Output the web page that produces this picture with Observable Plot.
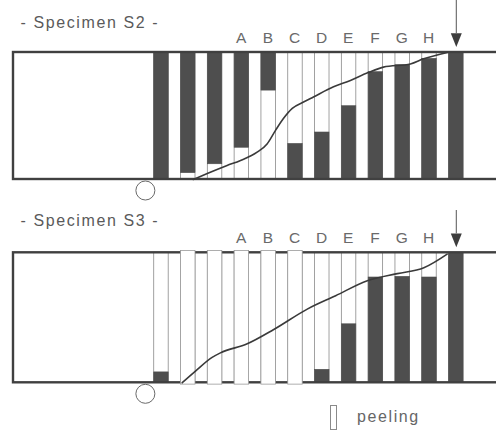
<!DOCTYPE html>
<html>
<head>
<meta charset="utf-8">
<script src="https://cdn.jsdelivr.net/npm/d3@7"></script>
<script src="https://cdn.jsdelivr.net/npm/@observablehq/plot@0.6"></script>
<style>
  html, body { margin: 0; padding: 0; background: #fff; }
  #wrap { position: relative; width: 496px; height: 434px; overflow: hidden; font-family: "Liberation Sans", Arial, sans-serif; }
  #p1, #p2 { position: absolute; left: 0; }
  #p1 { top: 0; }
  #p2 { top: 210px; }
  #p1 svg, #p2 svg { display: block; }
  #legend { position: absolute; left: 0; top: 405px; width: 496px; height: 29px; }
  #swatch { position: absolute; left: 330px; top: 0px; width: 5px; height: 23px; border: 1px solid #8a8a8a; background: #fff; }
  #legtext { position: absolute; left: 357px; top: 3px; font-size: 16px; letter-spacing: 1.6px; color: #666; line-height: 18px; }
</style>
</head>
<body>
<div id="wrap">
  <div id="p1"></div>
  <div id="p2"></div>
  <div id="legend"><div id="swatch"></div><div id="legtext">peeling</div></div>
</div>
<script>
// ---- data ----
const stripIndex = [0, 1, 2, 3, 4, 5, 6, 7, 8, 9, 10, 11];
const stripLabels = ["A", "B", "C", "D", "E", "F", "G", "H"];
const labelStrip = [3, 4, 5, 6, 7, 8, 9, 10];
const arrowStrip = 11;
const originPos = -0.6;
const legendLabel = "peeling";

// dark (non-peeled) part of each strip, as fraction of height (0 = bottom, 1 = top)
const s2DarkFrom = [0, 0.05, 0.12, 0.25, 0.70, 0, 0, 0, 0, 0, 0, 0];
const s2DarkTo   = [1, 1, 1, 1, 1, 0.28, 0.37, 0.577, 0.845, 0.90, 0.95, 1];
const s3DarkFrom = [0, null, null, null, null, null, 0, 0, 0, 0, 0, 0];
const s3DarkTo   = [0.08, null, null, null, null, null, 0.10, 0.45, 0.81, 0.815, 0.81, 1];

// crack / peel front curve
const s2CurveX = [1.19, 1.71, 2.45, 2.95, 3.57, 3.94, 4.25, 4.55, 4.88, 5.30, 5.67, 6.42, 7.05, 7.69, 8.28, 9.29, 9.78, 10.67];
const s2CurveY = [0, 0.047, 0.11, 0.15, 0.215, 0.28, 0.385, 0.48, 0.56, 0.61, 0.65, 0.73, 0.78, 0.84, 0.885, 0.91, 0.95, 1.0];
const s3CurveX = [0.77, 1.27, 1.89, 2.2, 3.2, 4.19, 5.44, 6.5, 7.68, 8.8, 9.79, 10.66];
const s3CurveY = [0, 0.09, 0.195, 0.23, 0.30, 0.41, 0.567, 0.67, 0.785, 0.84, 0.885, 0.99];

const titles = ["- Specimen S2 -", "- Specimen S3 -"];

// ---- drawing ----
const downTriangle = {
  draw(ctx, size) {
    const r = Math.sqrt(size / Math.PI);
    ctx.moveTo(-r, -1.25 * r);
    ctx.lineTo(r, -1.25 * r);
    ctx.lineTo(0, 1.25 * r);
    ctx.closePath();
  }
};

function panel(cfg) {
  const strips = stripIndex.map((i, k) => ({i, from: cfg.darkFrom[k], to: cfg.darkTo[k]}));
  const curve = cfg.cx.map((x, k) => ({x, y: cfg.cy[k]}));
  const labels = stripLabels.map((t, k) => ({t, i: labelStrip[k]}));
  const H = cfg.frameBottom - cfg.frameTop;
  const above = px => 1 + px / H;
  const hw = 0.27;
  return Plot.plot({
    width: 496,
    height: cfg.height,
    margin: 0,
    x: {domain: [-5.52, 12.5], range: [13, 496], axis: null},
    y: {domain: [0, 1], range: [cfg.frameBottom, cfg.frameTop], axis: null},
    style: {fontFamily: "'Liberation Sans', Arial, sans-serif", background: "transparent", letterSpacing: "1.6px"},
    marks: [
      Plot.rect(strips, {x1: d => d.i - hw, x2: d => d.i + hw, y1: 0, y2: 1, fill: "white", stroke: "#8a8a8a", strokeWidth: 0.8}),
      Plot.rect(strips.filter(d => d.from != null), {x1: d => d.i - hw, x2: d => d.i + hw, y1: "from", y2: "to", fill: "#4e4e4e", stroke: "#4e4e4e", strokeWidth: 0.6}),
      Plot.rect([0], {x1: -5.52, x2: 14, y1: 0, y2: 1, fill: "none", stroke: "#404040", strokeWidth: 2.4}),
      Plot.rect(strips.filter(d => d.from == null), {x1: d => d.i - hw, x2: d => d.i + hw, y1: -0.014, y2: 1.014, fill: "white", stroke: "#9a9a9a", strokeWidth: 0.8}),
      Plot.line(curve, {x: "x", y: "y", curve: "monotone-x", stroke: "#3a3a3a", strokeWidth: 1.6}),
      Plot.text(labels, {x: "i", y: 1, dy: -10, text: "t", lineAnchor: "bottom", fontSize: 15.5, fill: "#6a6a6a"}),
      Plot.text([cfg.title], {x: -5.26, y: 1, dy: cfg.titleDy, text: d => d, textAnchor: "start", lineAnchor: "bottom", fontSize: 16, fill: "#5a5a5a"}),
      Plot.ruleX([arrowStrip], {y1: above(cfg.frameTop), y2: above(19), stroke: "#555", strokeWidth: 1}),
      Plot.dot([arrowStrip], {x: d => d, y: 1, dy: -12.5, symbol: downTriangle, r: 5.5, fill: "#3d3d3d", stroke: "none"}),
      Plot.dot([originPos], {x: d => d, y: 0, dy: 11, r: 9.5, fill: "white", stroke: "#6a6a6a", strokeWidth: 1})
    ]
  });
}

document.getElementById("p1").append(panel({
  title: titles[0], darkFrom: s2DarkFrom, darkTo: s2DarkTo, cx: s2CurveX, cy: s2CurveY,
  height: 210, frameTop: 52, frameBottom: 179, titleDy: -25
}));
document.getElementById("p2").append(panel({
  title: titles[1], darkFrom: s3DarkFrom, darkTo: s3DarkTo, cx: s3CurveX, cy: s3CurveY,
  height: 195, frameTop: 42.3, frameBottom: 172.3, titleDy: -27
}));
document.getElementById("legtext").textContent = legendLabel;
</script>
</body>
</html>
